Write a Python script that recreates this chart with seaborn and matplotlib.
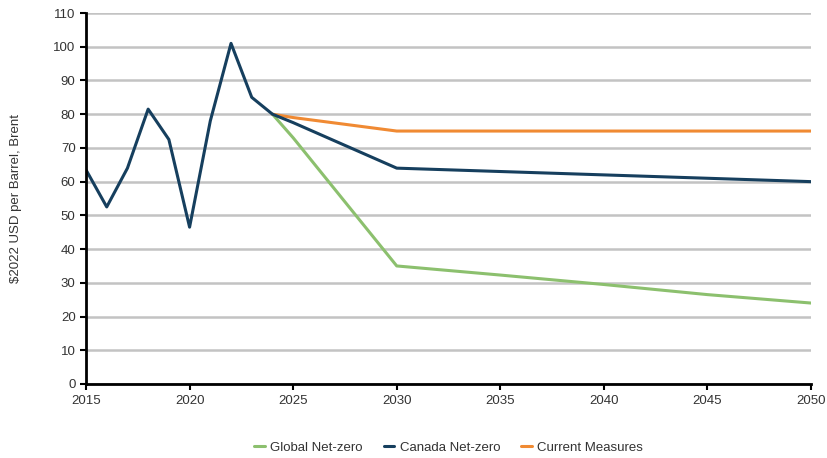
import pandas as pd
import matplotlib
matplotlib.use("Agg")
import matplotlib.pyplot as plt
import seaborn as sns

# price history + scenarios, $2022 USD per barrel (Brent)
hist_years = [2015, 2016, 2017, 2018, 2019, 2020, 2021, 2022, 2023, 2024]
hist_price = [63.5, 52.5, 64, 81.5, 72.5, 46.5, 78, 101, 85, 80]

proj_years = [2024, 2025, 2030, 2035, 2040, 2045, 2050]
global_nz = [80, 73, 35, 32.3, 29.5, 26.5, 24]
canada_nz = [80, 77.5, 64, 63, 62, 61, 60]
current_measures = [80, 79, 75, 75, 75, 75, 75]

series_names = ["Global Net-zero", "Canada Net-zero", "Current Measures"]
colors = ["#8cc06e", "#163f5e", "#f08a33"]

rows = []
for y, v in zip(proj_years, global_nz):
    rows.append({"year": y, "price": v, "scenario": series_names[0]})
for y, v in zip(hist_years[:-1] + proj_years, hist_price[:-1] + canada_nz):
    rows.append({"year": y, "price": v, "scenario": series_names[1]})
for y, v in zip(proj_years, current_measures):
    rows.append({"year": y, "price": v, "scenario": series_names[2]})
df = pd.DataFrame(rows)

sns.set_style("white")
plt.rcParams['font.family'] = ['Liberation Sans', 'DejaVu Sans']

fig = plt.figure(figsize=(8.27, 4.58), dpi=100)
ax = fig.add_axes([0.104, 0.1616, 0.8767, 0.81])

# draw order: green, orange, then navy on top
for name, col, z in zip(series_names, colors, [2, 4, 3]):
    sub = df[df["scenario"] == name]
    sns.lineplot(data=sub, x="year", y="price", color=col, linewidth=2.2,
                 ax=ax, label=name, zorder=z, sort=False)

ax.set_xlim(2015, 2050)
ax.set_ylim(0, 110)
ax.set_xticks(range(2015, 2051, 5))
ax.set_yticks(range(0, 111, 10))
ax.yaxis.grid(True, color="#c3c3c3", linewidth=1.8)
ax.xaxis.grid(False)
ax.set_axisbelow(True)

for s in ["top", "right"]:
    ax.spines[s].set_visible(False)
for s in ["left", "bottom"]:
    ax.spines[s].set_color("black")
    ax.spines[s].set_linewidth(2)
    ax.spines[s].set_zorder(5)

ax.tick_params(axis="both", which="major", length=4, width=1.5, color="black",
               labelsize=9.5, labelcolor="#333333", direction="out",
               left=True, bottom=True)
ax.tick_params(axis="x", pad=4)
ax.set_xlabel("")
ax.set_ylabel("$2022 USD per Barrel, Brent", fontsize=9.5, color="#333333")
ax.yaxis.set_label_coords(-0.088, 0.5)

ax.legend(loc="center", bbox_to_anchor=(0.5, -0.172), ncol=3, frameon=False,
          fontsize=9.5, handlelength=0.8, handletextpad=0.4, columnspacing=1.6,
          labelcolor="#333333")

fig.savefig("out.png", dpi=100)
